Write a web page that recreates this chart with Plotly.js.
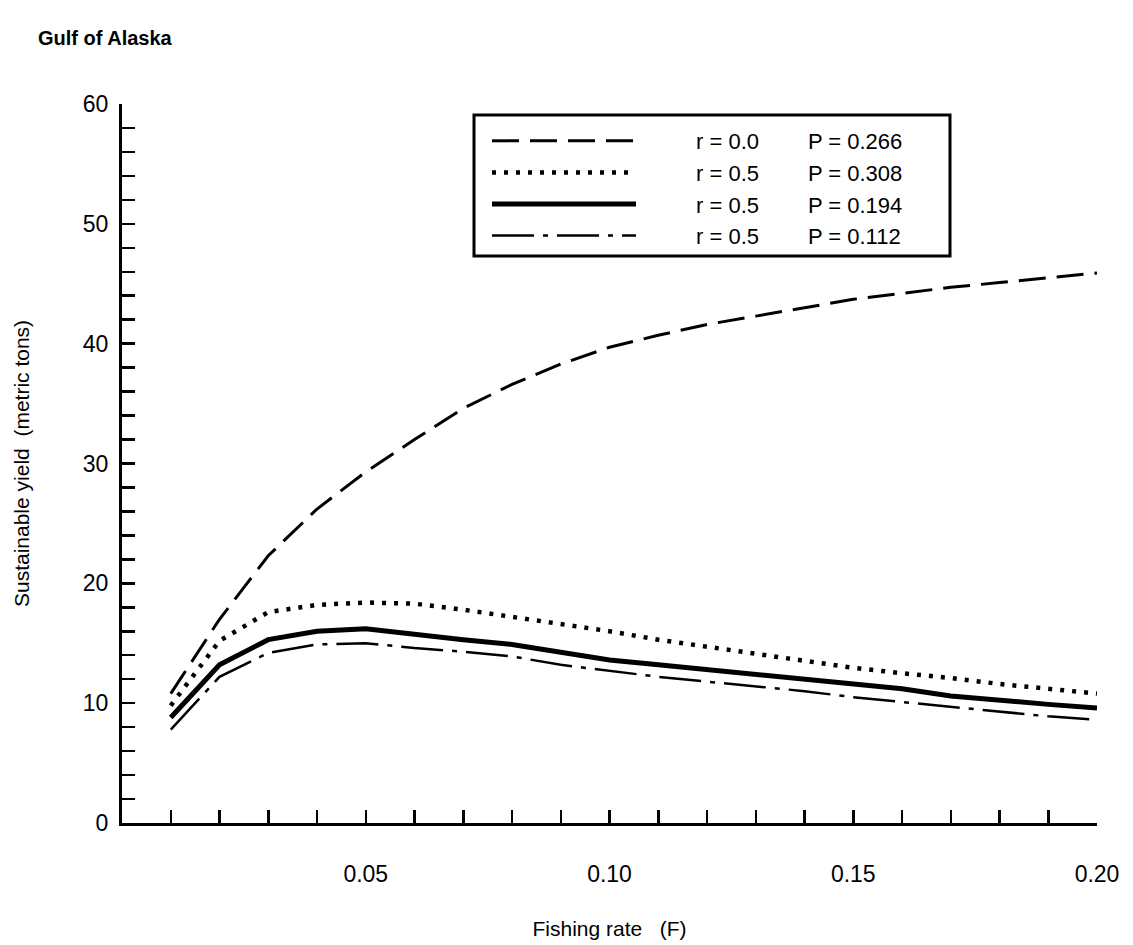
<!DOCTYPE html>
<html>
<head>
<meta charset="utf-8">
<script src="https://cdn.plot.ly/plotly-3.0.1.min.js"></script>
<style>html,body{margin:0;padding:0;background:#fff;}</style>
</head>
<body>
<div id="chart" style="width:1133px;height:945px;"></div>
<script>
// Fishing rate (F)
const fishingRate = [0.01,0.02,0.03,0.04,0.05,0.06,0.07,0.08,0.09,0.10,0.11,0.12,0.13,0.14,0.15,0.16,0.17,0.18,0.19,0.20];
// Sustainable yield (metric tons)
const yield_r00_P266 = [10.8,17.0,22.3,26.2,29.3,32.0,34.6,36.6,38.3,39.7,40.7,41.6,42.3,43.0,43.7,44.2,44.7,45.1,45.5,45.9];
const yield_r05_P308 = [9.8,15.2,17.6,18.2,18.4,18.3,17.8,17.2,16.6,16.0,15.3,14.7,14.1,13.5,12.95,12.5,12.1,11.6,11.2,10.8];
const yield_r05_P194 = [8.8,13.2,15.3,16.0,16.2,15.7,15.3,14.9,14.2,13.6,13.2,12.8,12.3,11.9,11.6,11.2,10.6,10.2,9.9,9.6];
const yield_r05_P112 = [7.8,12.2,14.2,14.9,15.0,14.6,14.3,13.9,13.2,12.7,12.2,11.8,11.4,11.0,10.5,10.1,9.7,9.3,8.9,8.6];
const rValues = ["0.0","0.5","0.5","0.5"];
const pValues = ["0.266","0.308","0.194","0.112"];
const xTickVals = [0.05,0.10,0.15,0.20];
const xTickText = ["0.05","0.10","0.15","0.20"];
const yTickVals = [0,10,20,30,40,50,60];
const yTickText = ["0","10","20","30","40","50","60"];

const NB = "\u00a0";
const lead = NB.repeat(9);
const mid = NB.repeat(8);
const names = rValues.map((r, i) => lead + "r = " + r + mid + "P = " + pValues[i]);

const FONT = "Liberation Sans, Arial, Helvetica, sans-serif";
const W = 1133, H = 945, ML = 122, MR = 36, MT = 104, MB = 122;
const PW = W - ML - MR, PH = H - MT - MB;
const px2x = p => (p - ML) / PW;
const px2y = p => (H - MB - p) / PH;

const traces = [
  {x: fishingRate, y: yield_r00_P266, name: names[0], mode: "lines",
   line: {color: "#000", width: 3, dash: "27px,11px"}},
  {x: fishingRate, y: yield_r05_P308, name: names[1], mode: "lines",
   line: {color: "#000", width: 4.5, dash: "4px,8px"}},
  {x: fishingRate, y: yield_r05_P194, name: names[2], mode: "lines",
   line: {color: "#000", width: 5}},
  {x: fishingRate, y: yield_r05_P112, name: names[3], mode: "lines",
   line: {color: "#000", width: 2.5, dash: "42px,9px,5px,9px"}}
];

const layout = {
  width: W, height: H,
  paper_bgcolor: "#fff", plot_bgcolor: "#fff",
  margin: {l: ML, r: MR, t: MT, b: MB},
  font: {family: FONT, color: "#000", size: 22},
  title: {text: "<b>Gulf of Alaska</b>", font: {family: FONT, size: 20, color: "#000"},
          xref: "container", yref: "container", x: 38/W, xanchor: "left", y: 1 - 38/H, yanchor: "middle"},
  showlegend: true,
  legend: {x: px2x(487), xref: "paper", y: px2y(120), yanchor: "top", xanchor: "left",
           borderwidth: 0, bgcolor: "rgba(0,0,0,0)",
           font: {family: FONT, size: 22, color: "#000"}, itemwidth: 144, tracegroupgap: 0},
  shapes: [
    {type: "rect", xref: "paper", yref: "paper", layer: "above",
     x0: px2x(474), x1: px2x(950), y0: px2y(115), y1: px2y(256),
     line: {color: "#000", width: 3}, fillcolor: "rgba(0,0,0,0)"}
  ],
  xaxis: {range: [0, 0.2], showgrid: false, zeroline: false, showline: true, linewidth: 3, linecolor: "#000",
          tickmode: "array", tickvals: xTickVals, ticktext: xTickText,
          ticks: "inside", ticklen: 13, tickwidth: 2.5, tickcolor: "#000",
          ticklabelstandoff: 28,
          tickfont: {family: FONT, size: 23, color: "#000"},
          minor: {tickmode: "linear", tick0: 0, dtick: 0.01, ticks: "inside", ticklen: 13, tickwidth: 2.5, tickcolor: "#000", showgrid: false},
          title: {text: "Fishing rate\u00a0\u00a0\u00a0(F)", font: {family: FONT, size: 21, color: "#000"}, standoff: 36}},
  yaxis: {range: [0, 60], showgrid: false, zeroline: false, showline: true, linewidth: 3, linecolor: "#000",
          tickmode: "array", tickvals: yTickVals, ticktext: yTickText,
          ticks: "inside", ticklen: 13, tickwidth: 2.5, tickcolor: "#000",
          ticklabelstandoff: 6,
          tickfont: {family: FONT, size: 23, color: "#000"},
          minor: {tickmode: "linear", tick0: 0, dtick: 2, ticks: "inside", ticklen: 13, tickwidth: 2.5, tickcolor: "#000", showgrid: false},
          title: {text: "Sustainable yield\u00a0\u00a0(metric tons)", font: {family: FONT, size: 21, color: "#000"}, standoff: 48}}
};

Plotly.newPlot("chart", traces, layout, {displayModeBar: false, staticPlot: true});
</script>
</body>
</html>
